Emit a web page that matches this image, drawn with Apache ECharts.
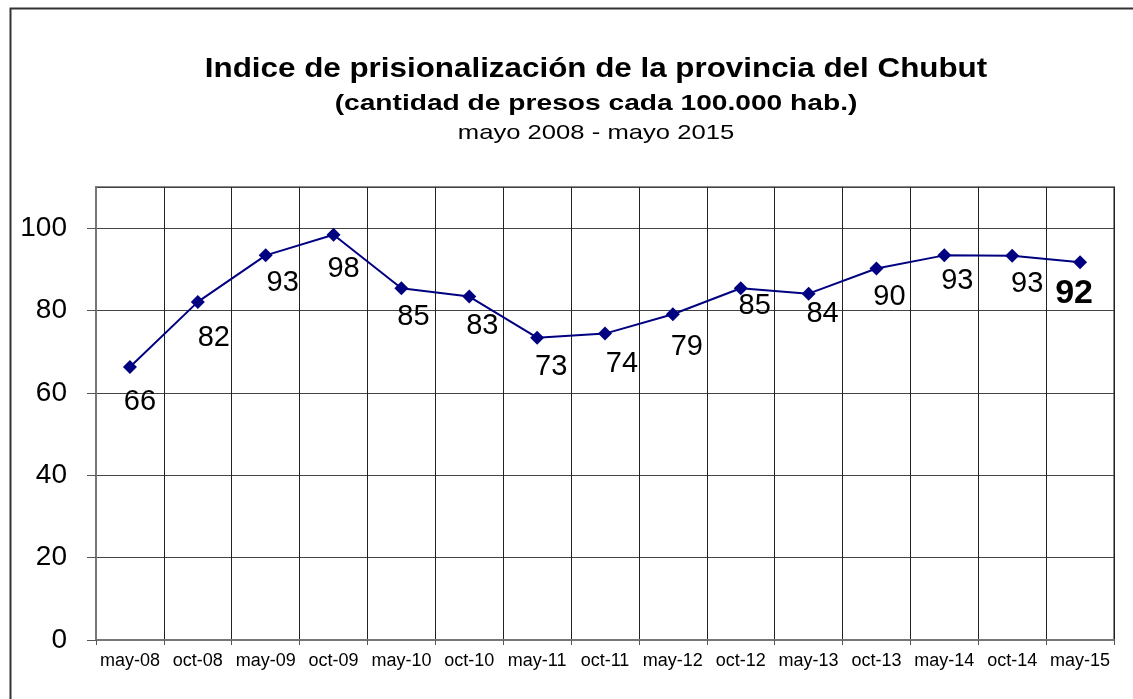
<!DOCTYPE html>
<html>
<head>
<meta charset="utf-8">
<script src="https://cdn.jsdelivr.net/npm/echarts@6/dist/echarts.min.js"></script>
<style>
  html, body { margin: 0; padding: 0; background: #fff; }
  #chart { width: 1133px; height: 699px; }
</style>
</head>
<body>
<div id="chart"></div>
<script>
// datos
const periodos = ['may-08', 'oct-08', 'may-09', 'oct-09', 'may-10', 'oct-10', 'may-11', 'oct-11',
  'may-12', 'oct-12', 'may-13', 'oct-13', 'may-14', 'oct-14', 'may-15']
const indice = [66.3, 82.1, 93.4, 98.4, 85.4, 83.4, 73.4, 74.4, 79.1, 85.4, 84.1, 90.2, 93.4, 93.3, 91.7]
const yTicks = [0, 20, 40, 60, 80, 100]

// desplazamiento de cada etiqueta respecto del punto
const labelOffsets = [[10, 35], [16, 36], [17, 28], [10, 34], [12, 29], [13, 29], [14, 29], [17, 30],
  [14, 33], [14, 18], [14, 20], [13, 28], [13, 26], [15, 28], [-6, 31]]

const FONT = 'Liberation Sans, Arial, sans-serif'

const chart = echarts.init(document.getElementById('chart'))

const serieData = indice.map((v, i) => {
  const last = i === indice.length - 1
  return {
    value: v,
    label: {
      offset: labelOffsets[i],
      fontWeight: last ? 'bold' : 'normal',
      fontSize: last ? 34 : 29
    }
  }
})

// los titulos del original estan algo estirados a lo ancho
const tituloTexto = (text, y, size, weight, sx) => ({
  type: 'text',
  x: 596, y: y,
  scaleX: sx,
  silent: true,
  style: {
    text: text,
    fill: '#000',
    font: weight + ' ' + size + 'px ' + FONT,
    textAlign: 'center',
    textVerticalAlign: 'middle'
  }
})

chart.setOption({
  animation: false,
  backgroundColor: '#fff',
  textStyle: { fontFamily: FONT },
  graphic: [
    {
      type: 'rect',
      left: 8, top: 6,
      shape: { width: 1200, height: 800 },
      style: { fill: 'none', stroke: '#333', lineWidth: 2 },
      silent: true
    },
    tituloTexto('Indice de prisionalización de la provincia del Chubut', 69, 28, 'bold', 1.12),
    tituloTexto('(cantidad de presos cada 100.000 hab.)', 104, 22, 'bold', 1.28),
    tituloTexto('mayo 2008 - mayo 2015', 133, 21, 'normal', 1.22)
  ],
  grid: {
    left: 96, right: 19, top: 187, bottom: 59,
    show: true, borderColor: '#888', borderWidth: 2
  },
  xAxis: {
    type: 'category',
    data: periodos,
    boundaryGap: true,
    axisLine: { lineStyle: { color: '#777', width: 2 } },
    axisTick: { show: true, length: 5, lineStyle: { color: '#555' } },
    axisLabel: { color: '#000', fontSize: 18, margin: 12, interval: 0 },
    splitLine: { show: true, interval: 0, lineStyle: { color: '#222', width: 1 } }
  },
  yAxis: {
    type: 'value',
    min: 0, max: 110, interval: 20,
    axisLine: { show: true, lineStyle: { color: '#777', width: 2 } },
    axisTick: { show: true, length: 9, lineStyle: { color: '#555' } },
    axisLabel: {
      color: '#000', fontSize: 28, margin: 29, showMaxLabel: false,
      formatter: v => (yTicks.includes(v) ? String(v) : '')
    },
    splitLine: { show: true, lineStyle: { color: '#444', width: 1 } }
  },
  series: [
    {
      type: 'line',
      data: serieData,
      symbol: 'diamond',
      symbolSize: 14,
      lineStyle: { color: '#000080', width: 2 },
      itemStyle: { color: '#000080' },
      label: {
        show: true,
        position: 'inside',
        color: '#000',
        formatter: p => String(Math.round(p.value))
      }
    }
  ]
})
</script>
</body>
</html>
